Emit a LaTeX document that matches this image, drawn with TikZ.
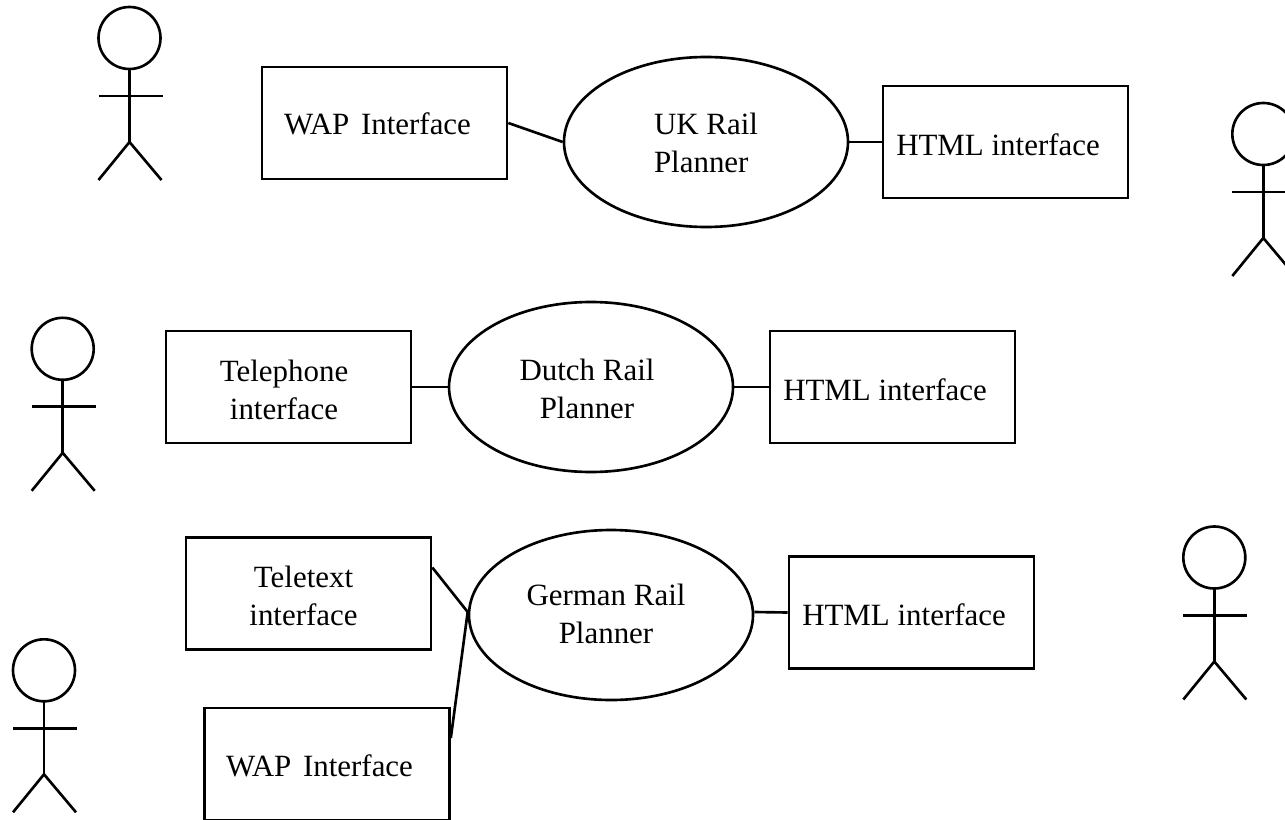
\documentclass[tikz,border=0pt]{standalone}
\usepackage{fontspec}
\setmainfont{Liberation Serif}
\usetikzlibrary{shapes.geometric}
\tikzset{
  railbox/.style={draw,minimum width=2.45cm,minimum height=1.12cm,inner sep=0pt},
  railoval/.style={draw,ellipse,minimum width=2.84cm,minimum height=1.7cm,inner sep=0pt},
  railtext/.style={align=center,inner sep=0pt},
  stickman/.pic={
    \draw (0,0) circle (.31);
    \draw (0,-.31) -- (0,-1.04);
    \draw (-.31,-.58) -- (.33,-.58);
    \draw (-.31,-1.42) -- (0,-1.04) -- (.32,-1.42);
  }
}
\begin{document}
\begin{tikzpicture}[line width=.75pt,font=\fontsize{8.8pt}{10.8pt}\selectfont]
\useasboundingbox (0,0) rectangle (12.85,8.19);
\clip (0,0) rectangle (12.85,8.19);
% UK
\pic at (1.295,7.81) {stickman};
\pic at (12.633,6.85) {stickman};
\node[railbox] (wapuk) at (3.845,6.96){};
\node[railoval] (ukrail) at (7.06,6.77){};
\node[railbox] (htmluk) at (10.055,6.77){};
\node[railtext] (wapuktext) at (3.775,6.95){WAP\hspace{.04cm} Interface};
\node[railtext,align=left] (ukrailtext) at (7.06,6.76){UK Rail\\Planner};
\node[railtext] (htmluktext) at (9.98,6.74){HTML interface};
\draw (wapuk.east) -- (ukrail.west);
\draw (ukrail.east) -- (htmluk.west);
% Dutch
\pic at (.627,4.702) {stickman};
\node[railbox] (phone) at (2.885,4.32){};
\node[railoval] (dutchrail) at (5.91,4.32){};
\node[railbox] (htmlnl) at (8.925,4.32){};
\node[railtext] (phonetext) at (2.84,4.295){Telephone\\interface};
\node[railtext] (dutchrailtext) at (5.87,4.30){Dutch Rail\\Planner};
\node[railtext] (htmlnltext) at (8.85,4.29){HTML interface};
\draw (phone.east) -- (dutchrail.west);
\draw (dutchrail.east) -- (htmlnl.west);
% German
\pic at (12.143,2.615) {stickman};
\pic at (.44,1.487) {stickman};
\node[railbox] (teletext) at (3.085,2.255){};
\node[railbox] (wapde) at (3.27,.55){};
\node[railoval] (germanrail) at (6.11,2.04){};
\node[railbox] (htmlde) at (9.115,2.065){};
\node[railtext] (teletexttext) at (3.035,2.235){Teletext\\interface};
\node[railtext] (wapdetext) at (3.195,.53){WAP\hspace{.04cm} Interface};
\node[railtext] (germanrailtext) at (6.06,2.05){German Rail\\Planner};
\node[railtext] (htmldetext) at (9.04,2.04){HTML interface};
\draw ([yshift=.26cm]teletext.east) -- ([yshift=.03cm]germanrail.west);
\draw ([yshift=.26cm]wapde.east) -- ([yshift=.03cm]germanrail.west);
\draw ([yshift=.03cm]germanrail.east) -- (htmlde.west);
\end{tikzpicture}
\end{document}
